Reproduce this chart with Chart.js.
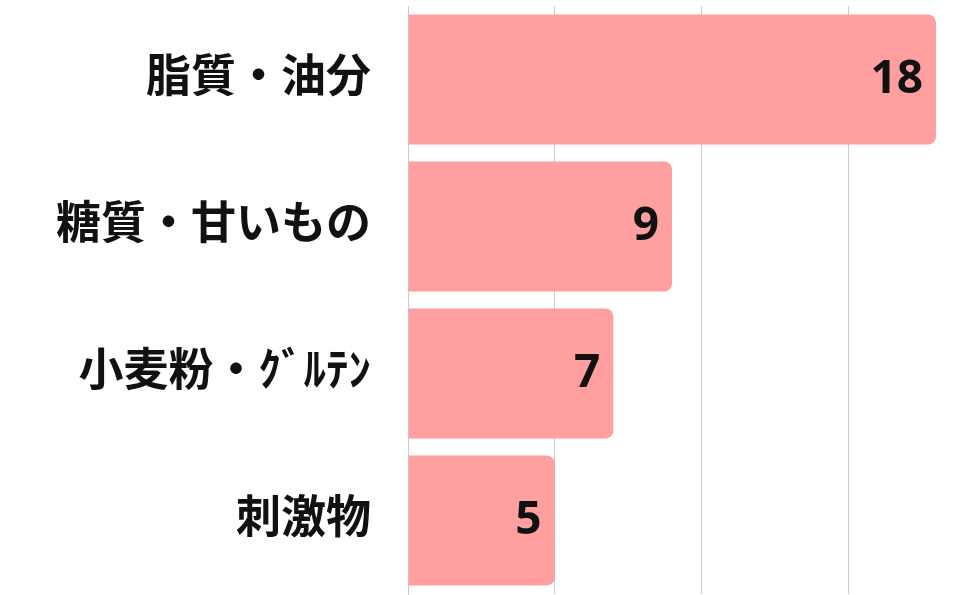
<!DOCTYPE html>
<html>
<head>
<meta charset="utf-8">
<script src="https://cdn.jsdelivr.net/npm/chart.js@4"></script>
<style>
    html, body { margin: 0; padding: 0; background: #fff; }
    #wrap { width: 965px; height: 595px; }
</style>
</head>
<body>
<div id="wrap"><canvas id="barChart"></canvas></div>
<script>
// Data
const categories = ['脂質・油分', '糖質・甘いもの', '小麦粉・ｸﾞﾙﾃﾝ', '刺激物'];
const counts = [18, 9, 7, 5];

const FONT = "'Noto Sans', 'Noto Sans CJK JP', sans-serif";

// Draw value labels inside the end of each bar
const valueLabels = {
    id: 'valueLabels',
    afterDatasetsDraw(chart) {
        const ctx = chart.ctx;
        const meta = chart.getDatasetMeta(0);
        ctx.save();
        ctx.font = `bold 46px ${FONT}`;
        ctx.fillStyle = '#111';
        ctx.textAlign = 'right';
        ctx.textBaseline = 'middle';
        meta.data.forEach((bar, i) => {
            ctx.fillText(String(counts[i]), bar.x - 13, bar.y);
        });
        ctx.restore();
    }
};

new Chart(document.getElementById('barChart'), {
    type: 'bar',
    data: {
        labels: categories,
        datasets: [{
            data: counts,
            backgroundColor: '#FF9F9F',
            borderRadius: 8,
            borderSkipped: 'start',
            categoryPercentage: 1,
            barPercentage: 0.885
        }]
    },
    options: {
        indexAxis: 'y',
        responsive: true,
        maintainAspectRatio: false,
        animation: false,
        layout: { padding: { top: 6, bottom: 1, right: 29, left: 27 } },
        plugins: {
            legend: { display: false },
            tooltip: { enabled: false }
        },
        scales: {
            x: {
                min: 0,
                max: 18,
                ticks: { display: false, stepSize: 5 },
                grid: {
                    // only the 5-step lines, no line at the max edge
                    color: (c) => (c.tick && c.tick.value % 5 === 0) ? '#cccccc' : 'rgba(0,0,0,0)',
                    drawTicks: false
                },
                border: { display: false }
            },
            y: {
                grid: { display: false },
                border: { display: true, color: '#cccccc' },
                ticks: {
                    color: '#111',
                    padding: 29,
                    font: { family: FONT, size: 45, weight: 'bold' }
                },
                // big labels make the axis reserve extra room top and bottom
                afterFit: (scale) => {
                    scale.paddingTop = 0;
                    scale.paddingBottom = 0;
                }
            }
        }
    },
    plugins: [valueLabels]
});
</script>
</body>
</html>
